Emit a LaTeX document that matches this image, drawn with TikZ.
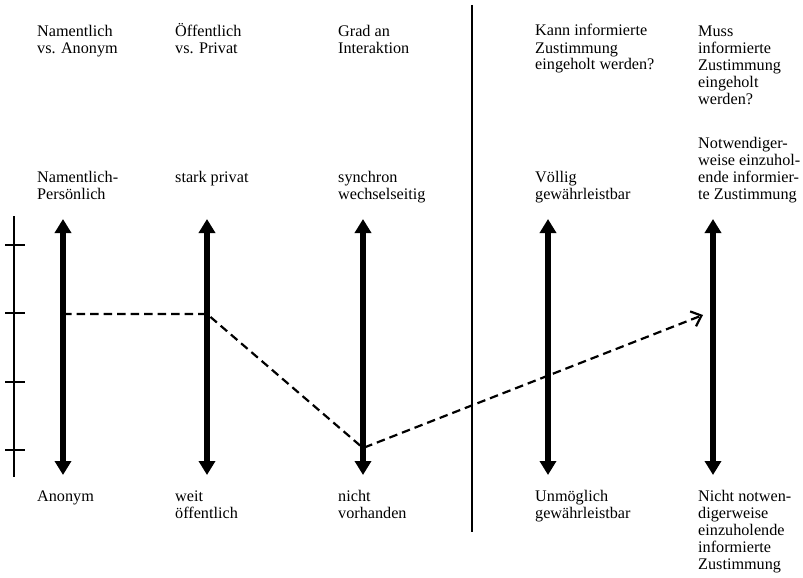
\documentclass[tikz,border=0pt]{standalone}
\usepackage{fontspec}
\setmainfont{Liberation Serif}
\usetikzlibrary{arrows.meta}
\tikzset{
  lbl/.style={anchor=base west, inner sep=0pt, align=left,
    font=\fontsize{16.2pt}{17pt}\selectfont},
  dimarrow/.style={line width=5.5pt, {Triangle[width=16pt,length=14pt]}-{Triangle[width=16pt,length=14pt]}},
  pathline/.style={line width=2.2pt, dash pattern=on 8.5pt off 5pt, -{Straight Barb[length=9pt,width=16pt,line width=2.2pt]}},
  sepline/.style={line width=1.2pt},
  scaleline/.style={line width=1.5pt}
}
\begin{document}
\begin{tikzpicture}[x=1pt,y=-1pt]
\useasboundingbox (0,0) rectangle (803,578);
% headers (anchor = baseline of last line)
\node[lbl] (h1) at (37,53) {Namentlich\\vs. Anonym};
\node[lbl] (h2) at (175,53) {Öffentlich\\vs. Privat};
\node[lbl] (h3) at (338,53) {Grad an\\Interaktion};
\node[lbl] (h4) at (535,70) {Kann informierte\\Zustimmung\\eingeholt werden?};
\node[lbl] (h5) at (698,104) {Muss\\informierte\\Zustimmung\\eingeholt\\werden?};
% top labels
\node[lbl] (t1) at (37,199) {Namentlich-\\Persönlich};
\node[lbl] (t2) at (175,182) {stark privat};
\node[lbl] (t3) at (338,199) {synchron\\wechselseitig};
\node[lbl] (t4) at (535,199) {Völlig\\gewährleistbar};
\node[lbl] (t5) at (698,199) {Notwendiger-\\weise einzuhol-\\ende informier-\\te Zustimmung};
% bottom labels
\node[lbl] (b1) at (37,501) {Anonym};
\node[lbl] (b2) at (175,518) {weit\\öffentlich};
\node[lbl] (b3) at (338,518) {nicht\\vorhanden};
\node[lbl] (b4) at (535,518) {Unmöglich\\gewährleistbar};
\node[lbl] (b5) at (698,569) {Nicht notwen-\\digerweise\\einzuholende\\informierte\\Zustimmung};
% arrow endpoints
\foreach \i/\x in {1/63,2/207,3/363,4/548,5/713}{
  \coordinate (a\i t) at (\x,219);
  \coordinate (a\i b) at (\x,475);
}
\foreach \i in {1,...,5}{\draw[dimarrow] (a\i t) -- (a\i b);}
% separator
\coordinate (st) at (472,5);
\coordinate (sb) at (472,532);
\draw[sepline] (st) -- (sb);
% scale
\coordinate (kt) at (14,216);
\coordinate (kb) at (14,477);
\draw[scaleline] (kt) -- (kb);
\foreach \i/\y in {1/245,2/313,3/382,4/450}{
  \coordinate (k\i l) at (5,\y);
  \coordinate (k\i r) at (25,\y);
  \draw[scaleline] (k\i l) -- (k\i r);
}
% dashed profile
\coordinate (p1) at (63,314);
\coordinate (p2) at (207,314);
\coordinate (p3) at (363,448);
\coordinate (p4) at (703,315);
\draw[pathline] (p1) -- (p2) -- (p3) -- (p4);
\end{tikzpicture}
\end{document}
